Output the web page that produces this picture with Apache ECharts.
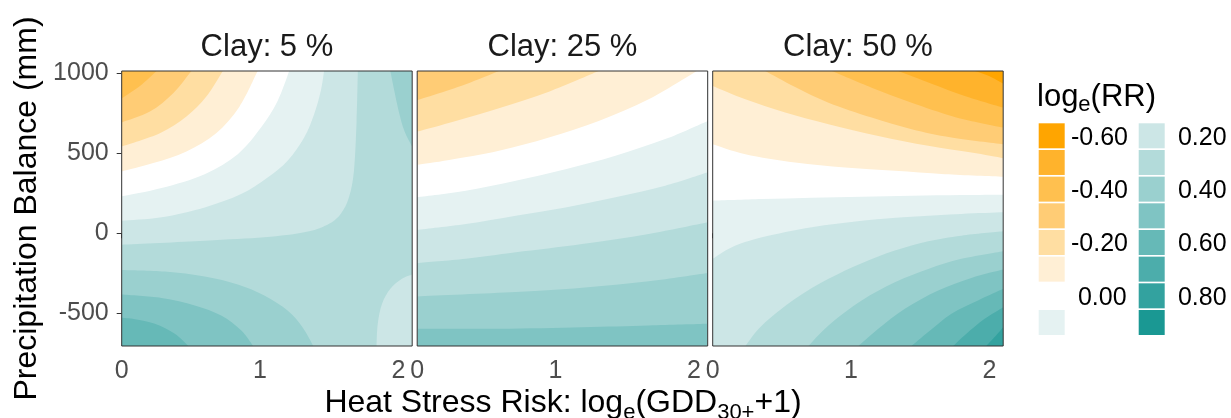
<!DOCTYPE html>
<html><head><meta charset="utf-8">
<script src="https://cdn.jsdelivr.net/npm/echarts@6/dist/echarts.min.js"></script>
<style>html,body{margin:0;padding:0;background:#fff}#c{width:1231px;height:418px}</style>
</head><body><div id="c"></div>
<script>
// ---------- data ----------
const panelTitles = ['Clay: 5 %', 'Clay: 25 %', 'Clay: 50 %'];
const xTicks = [0, 1, 2];
const yTicks = [-500, 0, 500, 1000];
const xRange = [0, 2.1];
const yRange = [-705, 1015];
const bandValues = [-0.6,-0.5,-0.4,-0.3,-0.2,-0.1,0.0,0.1,0.2,0.3,0.4,0.5,0.6,0.7,0.8,0.9];
const bandColors = ['#FFA500','#FFB32C','#FFC04F','#FFCC75','#FFDEA2','#FFEFD5','#FFFFFF','#E5F2F2',
                    '#CCE6E6','#B3DBDA','#9AD0CF','#7FC4C3','#66B9B7','#4CADAB','#33A29F','#1A9893'];
const legendText = ['-0.60','','-0.40','','-0.20','',' 0.00','',' 0.20','',' 0.40','',' 0.60','',' 0.80',''];

// axis-range corners
const TL = [0, 1015], TR = [2.1, 1015], BL = [0, -705], BR = [2.1, -705];

// contour regions: [band value, boundary points [x, y], closing corners]
const clay5 = [
  [0.3, [TL, TR], [BR, BL]],
  [0.2, [[1.707,1015],[1.698,703],[1.679,391],[1.643,225],[1.583,121],[1.487,54],[1.319,6],[1.031,-25],[0.600,-46],[0,-71]], [TL]],
  [0.2, [[1.842,-705],[1.851,-566],[1.882,-441],[1.942,-347],[2.026,-285],[2.1,-258]], [BR]],
  [0.1, [[1.463,1015],[1.439,890],[1.391,745],[1.319,599],[1.199,453],[1.055,349],[0.863,245],[0.600,162],[0.288,100],[0,79]], [TL]],
  [0.0, [[1.211,1015],[1.127,828],[1.007,661],[0.839,495],[0.600,370],[0.288,283],[0,231]], [TL]],
  [-0.1, [[0.983,1015],[0.851,792],[0.683,626],[0.468,512],[0.228,439],[0,387]], [TL]],
  [-0.2, [[0.731,1015],[0.612,855],[0.468,730],[0.276,626],[0,543]], [TL]],
  [-0.3, [[0.504,1015],[0.372,876],[0.204,761],[0,693]], [TL]],
  [-0.4, [[0.252,1015],[0.132,921],[0,844]], [TL]],
  [0.4, [[1.942,1015],[1.971,890],[2.002,765],[2.043,641],[2.1,541]], [TR]],
  [0.4, [[1.386,-705],[1.307,-587],[1.199,-483],[1.031,-389],[0.839,-320],[0.600,-270],[0.312,-239],[0,-229]], [BL]],
  [0.5, [[0.950,-705],[0.863,-607],[0.719,-514],[0.528,-451],[0.288,-404],[0,-383]], [BL]],
  [0.6, [[0.482,-705],[0.384,-628],[0.240,-566],[0.096,-537],[0,-528]], [BL]]
];
const clay25 = [
  [0.5, [TL, TR], [BR, BL]],
  [0.4, [[0,-597],[0.591,-597],[1.192,-587],[1.673,-576],[2.1,-566]], [TR, TL]],
  [0.3, [[0,-395],[0.712,-368],[1.192,-341],[1.673,-300],[2.1,-248]], [TR, TL]],
  [0.2, [[0,-187],[0.351,-160],[0.712,-119],[1.192,-67],[1.673,-4],[2.1,69]], [TR, TL]],
  [0.1, [[0,21],[0.351,58],[0.712,110],[1.072,162],[1.433,225],[1.793,297],[2.1,381]], [TR, TL]],
  [0.0, [[0,225],[0.351,266],[0.712,329],[1.072,401],[1.433,485],[1.793,589],[2.1,703]], [TR, TL]],
  [-0.1, [[0,428],[0.231,458],[0.591,516],[0.952,599],[1.312,703],[1.673,838],[2.022,1015]], [TL]],
  [-0.2, [[0,636],[0.279,703],[0.591,782],[0.952,886],[1.312,1015]], [TL]],
  [-0.3, [[0,832],[0.135,869],[0.351,932],[0.591,1015]], [TL]]
];
const clay50 = [
  [0.0, [TL, TR], [BR, BL]],
  [-0.1, [[0,557],[0.236,495],[0.596,443],[0.957,412],[1.317,391],[1.678,370],[2.1,354]], [TR, TL]],
  [-0.2, [[0,921],[0.236,838],[0.524,755],[0.837,682],[1.197,609],[1.558,547],[1.870,505],[2.1,470]], [TR, TL]],
  [-0.3, [[0.380,1015],[0.596,915],[0.837,817],[1.149,724],[1.438,651],[1.726,599],[2.1,557]], [TR]],
  [-0.4, [[0.861,1015],[1.149,911],[1.438,817],[1.726,734],[1.918,693],[2.1,661]], [TR]],
  [-0.5, [[1.341,1015],[1.582,936],[1.822,859],[2.1,786]], [TR]],
  [-0.6, [[1.894,1015],[1.998,984],[2.1,936]], [TR]],
  [0.1, [[0,204],[0.356,214],[0.716,223],[1.077,229],[1.438,235],[1.798,239],[2.1,241]], [BR, BL]],
  [0.2, [[0,-160],[0.139,-87],[0.356,-25],[0.716,38],[1.077,79],[1.438,104],[1.798,121],[2.1,131]], [BR, BL]],
  [0.3, [[0.236,-705],[0.356,-576],[0.596,-410],[0.837,-285],[1.077,-187],[1.317,-108],[1.558,-50],[1.798,-15],[2.1,12]], [BR]],
  [0.4, [[0.692,-705],[0.837,-576],[1.077,-420],[1.317,-306],[1.558,-223],[1.798,-160],[2.1,-112]], [BR]],
  [0.5, [[1.053,-705],[1.197,-597],[1.389,-472],[1.630,-358],[1.870,-279],[2.1,-227]], [BR]],
  [0.6, [[1.438,-705],[1.558,-618],[1.726,-503],[1.918,-420],[2.1,-347]], [BR]],
  [0.7, [[1.738,-705],[1.834,-628],[1.966,-535],[2.1,-462]], [BR]],
  [0.8, [[1.978,-705],[2.038,-649],[2.1,-587]], [BR]]
];
const panels = [clay5, clay25, clay50];

// ---------- layout ----------
const FONT = "'Liberation Sans', Arial, Helvetica, sans-serif";
const gridLeft = [121.7, 417.2, 712.7];
const gridTop = 71, gridW = 290.5, gridH = 275;

const mctx = document.createElement('canvas').getContext('2d');
function textWidth(t, size) { mctx.font = size + 'px ' + FONT; return mctx.measureText(t).width; }

function colorOf(v) {
  const i = bandValues.findIndex(b => Math.abs(b - v) < 1e-6);
  return bandColors[i];
}
function makeRender(patches) {
  return function (params, api) {
    const p = patches[params.dataIndex];
    const pts = p[1].map(q => api.coord(q));
    const corners = p[2].map(q => api.coord(q));
    let d = 'M' + pts[0][0] + ' ' + pts[0][1];
    for (let i = 0; i < pts.length - 1; i++) {
      const p0 = pts[Math.max(i - 1, 0)], p1 = pts[i], p2 = pts[i + 1], p3 = pts[Math.min(i + 2, pts.length - 1)];
      const c1 = [p1[0] + (p2[0] - p0[0]) / 6, p1[1] + (p2[1] - p0[1]) / 6];
      const c2 = [p2[0] - (p3[0] - p1[0]) / 6, p2[1] - (p3[1] - p1[1]) / 6];
      d += ' C' + c1[0] + ' ' + c1[1] + ' ' + c2[0] + ' ' + c2[1] + ' ' + p2[0] + ' ' + p2[1];
    }
    corners.forEach(c => { d += ' L' + c[0] + ' ' + c[1]; });
    d += ' Z';
    const cs = params.coordSys;
    return {
      type: 'path',
      shape: { pathData: d },
      style: { fill: colorOf(p[0]), stroke: null },
      clipPath: { type: 'rect', shape: { x: cs.x, y: cs.y, width: cs.width, height: cs.height } }
    };
  };
}

const grids = [], xAxes = [], yAxes = [], series = [], graphics = [];
panels.forEach((patches, i) => {
  grids.push({ left: gridLeft[i], top: gridTop, width: gridW, height: gridH, containLabel: false });
  xAxes.push({
    type: 'value', gridIndex: i, min: xRange[0], max: xRange[1],
    axisLine: { show: false },
    splitLine: { show: false },
    axisTick: { show: true, customValues: xTicks, length: 5, lineStyle: { color: '#333333', width: 1 } },
    axisLabel: { customValues: xTicks, formatter: v => String(v), fontSize: 25, color: '#4D4D4D', fontFamily: FONT, margin: 13 }
  });
  yAxes.push({
    type: 'value', gridIndex: i, min: yRange[0], max: yRange[1],
    axisLine: { show: false },
    splitLine: { show: false },
    axisTick: { show: i === 0, customValues: yTicks, length: 5, lineStyle: { color: '#333333', width: 1 } },
    axisLabel: { show: i === 0, customValues: yTicks, formatter: v => String(v), fontSize: 25, color: '#4D4D4D', fontFamily: FONT, margin: 13 }
  });
  series.push({
    type: 'custom', xAxisIndex: i, yAxisIndex: i, silent: true, animation: false,
    renderItem: makeRender(patches),
    data: patches.map(() => [1, 0])
  });
  graphics.push({
    type: 'rect', z: 100, silent: true,
    shape: { x: gridLeft[i], y: gridTop, width: gridW, height: gridH },
    style: { fill: 'transparent', stroke: '#333333', lineWidth: 1 }
  });
  graphics.push({
    type: 'text', z: 100, silent: true,
    x: gridLeft[i] + gridW / 2, y: 47,
    style: { text: panelTitles[i], fontSize: 31, fontFamily: FONT, fill: '#1A1A1A', align: 'center', verticalAlign: 'middle' }
  });
});

// text made of pieces with subscripts: parts = [[text, fontSize, baselineShift]]
function pieceText(parts, x0, baseline, centered) {
  const widths = parts.map(p => textWidth(p[0], p[1]));
  const total = widths.reduce((a, b) => a + b, 0);
  let x = centered ? x0 - total / 2 : x0;
  parts.forEach((p, k) => {
    graphics.push({
      type: 'text', z: 100, silent: true, x: x, y: baseline + p[2] - 0.31 * p[1],
      style: { text: p[0], fontSize: p[1], fontFamily: FONT, fill: '#000', align: 'left', verticalAlign: 'middle' }
    });
    x += widths[k];
  });
}

// axis titles
graphics.push({
  type: 'text', z: 100, silent: true, x: 27, y: 208.5, rotation: Math.PI / 2,
  style: { text: 'Precipitation Balance (mm)', fontSize: 32, fontFamily: FONT, fill: '#000', align: 'center', verticalAlign: 'middle' }
});
pieceText([['Heat Stress Risk: log', 32, 0], ['e', 22, 7], ['(GDD', 32, 0], ['30+', 22, 7], ['+1)', 32, 0]], 563, 413, true);

// legend
pieceText([['log', 31, 0], ['e', 22, 5], ['(RR)', 31, 0]], 1037, 107, false);
bandValues.forEach((v, i) => {
  const col = i < 8 ? 0 : 1, row = i % 8;
  const x = 1038.7 + col * 100, y = 123.3 + row * 26.67;
  graphics.push({
    type: 'rect', z: 100, silent: true,
    shape: { x: x, y: y, width: 26, height: 25 },
    style: { fill: bandColors[i], stroke: null }
  });
  if (legendText[i]) {
    graphics.push({
      type: 'text', z: 100, silent: true, x: 1071 + col * 100, y: y + 14.5,
      style: { text: legendText[i], fontSize: 25, fontFamily: FONT, fill: '#000', align: 'left', verticalAlign: 'middle' }
    });
  }
});

const chart = echarts.init(document.getElementById('c'), null, { renderer: 'canvas', width: 1231, height: 418 });
chart.setOption({
  backgroundColor: '#ffffff',
  animation: false,
  grid: grids, xAxis: xAxes, yAxis: yAxes, series: series,
  graphic: { elements: graphics }
});
</script>
</body></html>
